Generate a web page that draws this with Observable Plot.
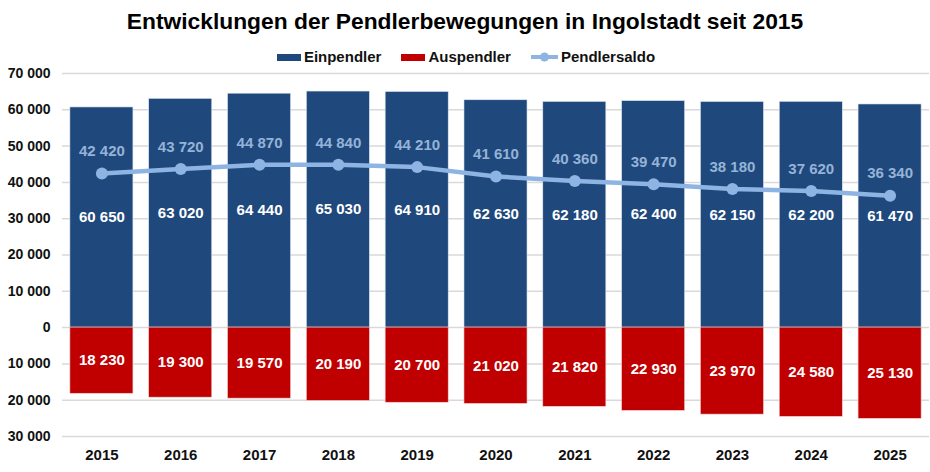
<!DOCTYPE html>
<html>
<head>
<meta charset="utf-8">
<script src="https://cdn.jsdelivr.net/npm/d3@7"></script>
<script src="https://cdn.jsdelivr.net/npm/@observablehq/plot@0.6"></script>
<style>
  html, body { margin: 0; padding: 0; background: #fff; }
  body { width: 930px; height: 472px; position: relative; overflow: hidden; font-family: "Liberation Sans", Arial, sans-serif; }
  #title { position: absolute; top: 6px; left: 0; width: 930px; text-align: center; font-weight: bold; font-size: 22.8px; color: #000; line-height: 30px; }
  #legend { position: absolute; top: 47px; left: 0; width: 930px; display: flex; justify-content: center; align-items: center; font-weight: bold; font-size: 15px; line-height: 20px; color: #111; z-index: 2; padding-left: 2px; box-sizing: border-box; }
  .item { display: flex; align-items: center; margin: 0 10px; }
  .sw { width: 24px; height: 7px; margin-right: 3px; }
  #chart { position: absolute; top: 64px; left: 0; }
  #chart svg { background: transparent; }
</style>
</head>
<body>
<div id="title">Entwicklungen der Pendlerbewegungen in Ingolstadt seit 2015</div>
<div id="legend"></div>
<div id="chart"></div>
<script>
const years = ["2015","2016","2017","2018","2019","2020","2021","2022","2023","2024","2025"];
const einpendler = [60650, 63020, 64440, 65030, 64910, 62630, 62180, 62400, 62150, 62200, 61470];
const auspendler = [18230, 19300, 19570, 20190, 20700, 21020, 21820, 22930, 23970, 24580, 25130];
const pendlersaldo = [42420, 43720, 44870, 44840, 44210, 41610, 40360, 39470, 38180, 37620, 36340];
const yTicks = [-30000, -20000, -10000, 0, 10000, 20000, 30000, 40000, 50000, 60000, 70000];
const seriesNames = ["Einpendler", "Auspendler", "Pendlersaldo"];
const colors = ["#1F497D", "#C00000", "#8EB4E3"];

const data = years.map((y, i) => ({year: y, ein: einpendler[i], aus: auspendler[i], saldo: pendlersaldo[i]}));
const fmt = v => d3.format(",")(Math.abs(v)).replace(/,/g, "\u00a0");

// legend
const leg = document.getElementById("legend");
seriesNames.forEach((name, i) => {
  const it = document.createElement("div");
  it.className = "item";
  if (i < 2) {
    it.innerHTML = `<span class="sw" style="background:${colors[i]}"></span><span>${name}</span>`;
  } else {
    it.innerHTML = `<svg width="27" height="12" style="margin-right:3px"><line x1="0" x2="27" y1="6" y2="6" stroke="${colors[2]}" stroke-width="4"/><circle cx="13.5" cy="6" r="4.5" fill="${colors[2]}"/></svg><span>${name}</span>`;
  }
  leg.appendChild(it);
});

const chart = Plot.plot({
  width: 930,
  height: 408,
  marginLeft: 62,
  marginRight: 1,
  marginTop: 9,
  marginBottom: 36,
  style: {fontFamily: "'Liberation Sans', Arial, sans-serif", background: "transparent"},
  x: {domain: years, paddingInner: 0.2, paddingOuter: 0.1, round: false, label: null},
  y: {domain: [-30000, 70000], label: null},
  marks: [
    Plot.ruleY(yTicks, {stroke: "#d9d9d9", strokeWidth: 1.5}),
    Plot.barY(data, {x: "year", y: "ein", fill: colors[0], stroke: "#dfe6ee", strokeWidth: 0.6}),
    Plot.barY(data, {x: "year", y: d => -d.aus, fill: colors[1], stroke: "#f0d0d0", strokeWidth: 0.6}),
    Plot.text(data, {x: "year", y: d => d.ein / 2, text: d => fmt(d.ein), fill: "white", fontWeight: "bold", fontSize: 15}),
    Plot.text(data, {x: "year", y: d => -d.aus / 2, text: d => fmt(d.aus), fill: "white", fontWeight: "bold", fontSize: 15}),
    Plot.line(data, {x: "year", y: "saldo", stroke: colors[2], strokeWidth: 4.5}),
    Plot.dot(data, {x: "year", y: "saldo", fill: colors[2], r: 6}),
    Plot.text(data, {x: "year", y: "saldo", text: d => fmt(d.saldo), fill: "#95B3D7", fontWeight: "bold", fontSize: 15, dy: -22}),
    Plot.axisY(yTicks, {tickSize: 0, tickPadding: 12, tickFormat: fmt, fontWeight: "bold", fontSize: 14, fill: "#111"}),
    Plot.axisX({tickSize: 0, tickPadding: 13, fontWeight: "bold", fontSize: 15, fill: "#111"})
  ]
});
document.getElementById("chart").appendChild(chart);
</script>
</body>
</html>
